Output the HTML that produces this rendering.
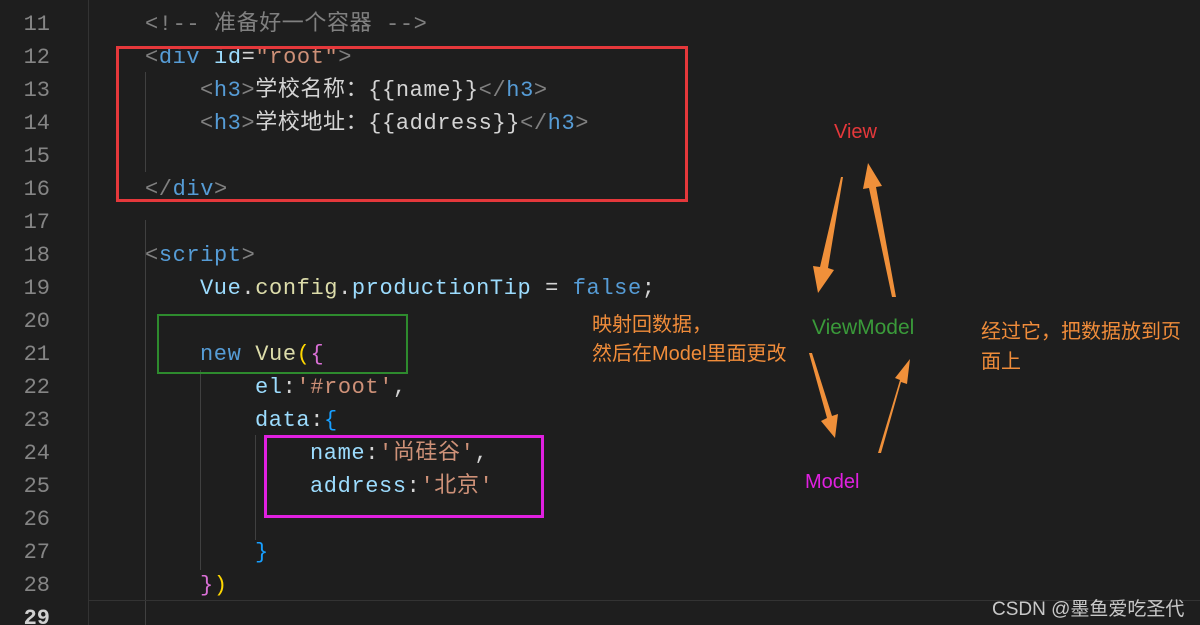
<!DOCTYPE html>
<html style="overflow:hidden;width:1200px;height:625px"><head><meta charset="utf-8"><style>
html,body{margin:0;padding:0;}
body{background:#1e1e1e;width:1200px;height:625px;overflow:hidden;position:relative;font-family:"Liberation Mono","Noto Sans CJK SC",monospace;}
.ln{position:absolute;left:0;width:50px;text-align:right;color:#858585;font-size:22px;line-height:33px;font-family:"Liberation Mono",monospace;}
.c{position:absolute;font-size:22px;line-height:33px;height:33px;letter-spacing:0.6px;white-space:pre;color:#d4d4d4;}
.g{color:#808080}.t{color:#569cd6}.a{color:#9cdcfe}.s{color:#ce9178}.y{color:#dcdcaa}.p{color:#da70d6}.b{color:#179fff}.gold{color:#ffd700}
.box{position:absolute;border-style:solid;}
.lab{position:absolute;font-family:"Liberation Sans","Noto Sans CJK SC",sans-serif;font-size:20px;white-space:nowrap;}
.vl{position:absolute;width:1px;background:#404040;}
#code{position:absolute;left:0;top:3px;width:1200px;height:622px;overflow:hidden;}
</style></head><body>
<div class="vl" style="left:88px;top:0;height:625px;background:#333"></div>
<div class="vl" style="left:145px;top:220px;height:405px"></div>
<div class="vl" style="left:145px;top:72px;height:100px"></div>
<div class="vl" style="left:200px;top:370px;height:200px"></div>
<div class="vl" style="left:255px;top:435px;height:105px"></div>
<div style="position:absolute;left:88px;top:600px;width:1112px;height:1px;background:#333"></div>
<div id="code">
<div class="ln" style="top:5px">11</div>
<div class="ln" style="top:38px">12</div>
<div class="ln" style="top:71px">13</div>
<div class="ln" style="top:104px">14</div>
<div class="ln" style="top:137px">15</div>
<div class="ln" style="top:170px">16</div>
<div class="ln" style="top:203px">17</div>
<div class="ln" style="top:236px">18</div>
<div class="ln" style="top:269px">19</div>
<div class="ln" style="top:302px">20</div>
<div class="ln" style="top:335px">21</div>
<div class="ln" style="top:368px">22</div>
<div class="ln" style="top:401px">23</div>
<div class="ln" style="top:434px">24</div>
<div class="ln" style="top:467px">25</div>
<div class="ln" style="top:500px">26</div>
<div class="ln" style="top:533px">27</div>
<div class="ln" style="top:566px">28</div>
<div class="ln" style="top:599px;color:#d0d0d0;font-weight:bold">29</div>

<div class="c g" style="left:145px;top:5px">&lt;!-- 准备好一个容器 --&gt;</div>
<div class="c" style="left:145px;top:38px"><span class="g">&lt;</span><span class="t">div</span> <span class="a">id</span>=<span class="s">"root"</span><span class="g">&gt;</span></div>
<div class="c" style="left:200px;top:71px"><span class="g">&lt;</span><span class="t">h3</span><span class="g">&gt;</span>学校名称：{{name}}<span class="g">&lt;/</span><span class="t">h3</span><span class="g">&gt;</span></div>
<div class="c" style="left:200px;top:104px"><span class="g">&lt;</span><span class="t">h3</span><span class="g">&gt;</span>学校地址：{{address}}<span class="g">&lt;/</span><span class="t">h3</span><span class="g">&gt;</span></div>
<div class="c" style="left:145px;top:170px"><span class="g">&lt;/</span><span class="t">div</span><span class="g">&gt;</span></div>
<div class="c" style="left:145px;top:236px"><span class="g">&lt;</span><span class="t">script</span><span class="g">&gt;</span></div>
<div class="c" style="left:200px;top:269px"><span class="a">Vue</span>.<span class="y">config</span>.<span class="a">productionTip</span> = <span class="t">false</span>;</div>
<div class="c" style="left:200px;top:335px"><span class="t">new</span> <span class="y">Vue</span><span class="gold">(</span><span class="p">{</span></div>
<div class="c" style="left:255px;top:368px"><span class="a">el</span>:<span class="s">'#root'</span>,</div>
<div class="c" style="left:255px;top:401px"><span class="a">data</span>:<span class="b">{</span></div>
<div class="c" style="left:310px;top:434px"><span class="a">name</span>:<span class="s">'尚硅谷'</span>,</div>
<div class="c" style="left:310px;top:467px"><span class="a">address</span>:<span class="s">'北京'</span></div>
<div class="c b" style="left:255px;top:533px">}</div>
<div class="c" style="left:200px;top:566px"><span class="p">}</span><span class="gold">)</span></div>
</div>
<div class="box" style="left:116px;top:46px;width:566px;height:150px;border-width:3px;border-color:#e5383b"></div>
<div class="box" style="left:157px;top:314px;width:247px;height:56px;border-width:2px;border-color:#2e8b2e"></div>
<div class="box" style="left:264px;top:435px;width:274px;height:77px;border-width:3px;border-color:#e020e0"></div>

<div class="lab" style="left:834px;top:121px;color:#e5383b">View</div>
<div class="lab" style="left:812px;top:316px;color:#3a9a3a;font-size:21px">ViewModel</div>
<div class="lab" style="left:805px;top:471px;color:#e020e0">Model</div>
<div class="lab" style="left:592px;top:311px;color:#f08c3a;font-size:20px;line-height:29px">映射回数据，<br>然后在Model里面更改</div>
<div class="lab" style="left:981px;top:317px;color:#f08c3a;font-size:20px;line-height:30px">经过它，把数据放到页<br>面上</div>
<div class="lab" style="left:992px;top:594px;color:#c8c8c8;font-size:19px">CSDN @墨鱼爱吃圣代</div>

<svg width="1200" height="625" style="position:absolute;left:0;top:0">
<g fill="#f0903a">
<polygon points="843,177 828,268 834,270 818,293 813,266 820,267 841,177"/>
<polygon points="896,297 876,187 882,186 868,163 863,189 869,188 892,297"/>
<polygon points="809,353 827,418 821,421 835,438 838,414 832,416 812,353"/>
<polygon points="881,453 901,382 907,384 910,359 895,378 900,380 878,453"/>
</g>
</svg>
</body></html>
